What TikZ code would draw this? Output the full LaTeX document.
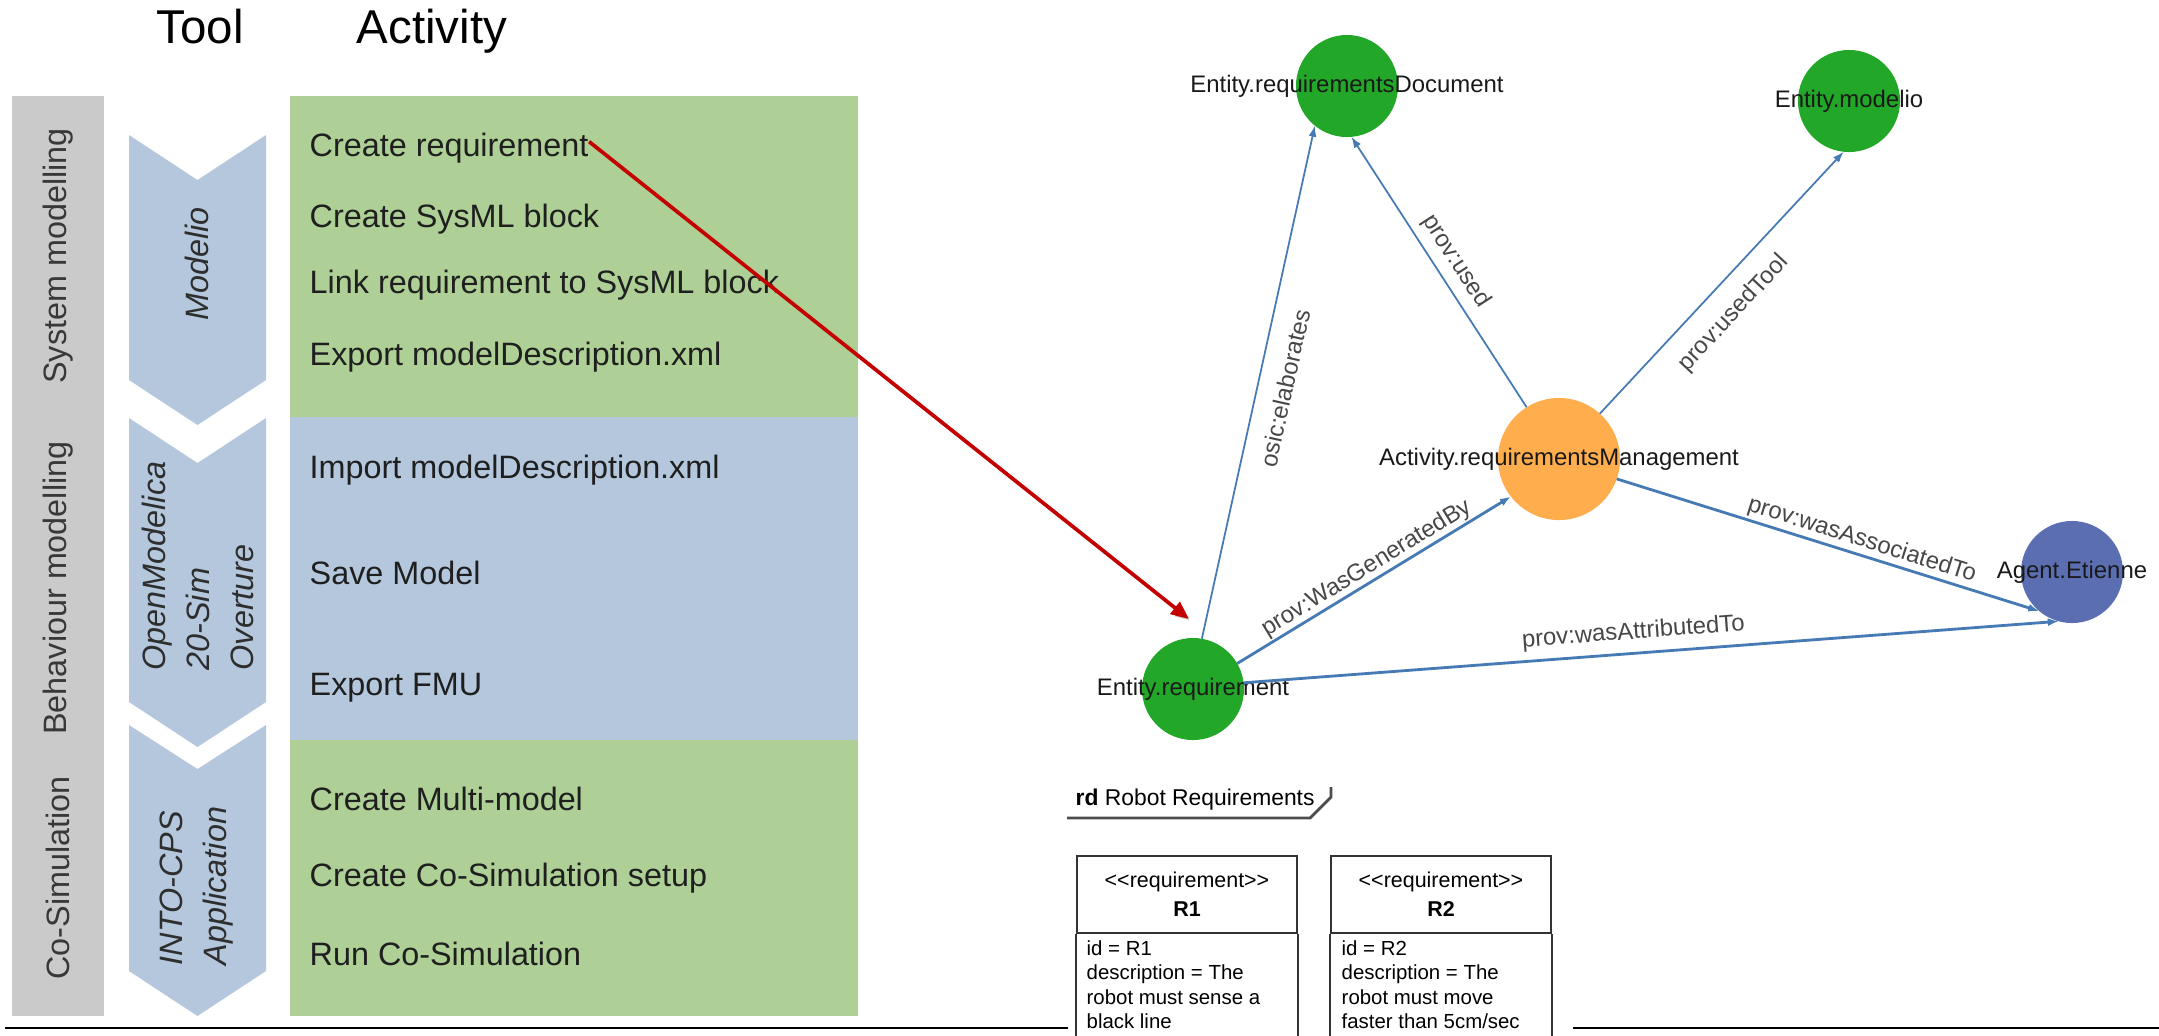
\documentclass[tikz,border=0pt]{standalone}
\usepackage{fontspec}
\setmainfont{Liberation Sans}
\usetikzlibrary{arrows.meta}

\definecolor{phasegray}{RGB}{202,202,202}
\definecolor{toolblue}{RGB}{180,199,221}
\definecolor{actgreen}{RGB}{174,207,149}
\definecolor{actblue}{RGB}{180,199,221}
\definecolor{entgreen}{RGB}{34,167,40}
\definecolor{actorange}{RGB}{255,173,77}
\definecolor{agentblue}{RGB}{92,110,178}
\definecolor{relblue}{RGB}{70,122,180}
\definecolor{linkred}{RGB}{196,0,0}

\begin{document}
\begin{tikzpicture}
	[x=0.01cm, y=-0.01cm,
	head/.style={anchor=base, inner sep=0, font=\fontsize{13.5}{16}\selectfont},
	phase/.style={rotate=90, inner sep=0, text=black!78, font=\fontsize{9.2}{11}\selectfont},
	tool/.style={rotate=90, inner sep=0, align=left, text=black!82, font=\fontsize{9.2}{12.5}\selectfont\itshape},
	act/.style={anchor=base west, inner sep=0, text=black!88, font=\fontsize{9.2}{11}\selectfont},
	ent/.style={circle, fill=entgreen, minimum size=1.02cm, inner sep=0, outer sep=0},
	lbl/.style={inner sep=0, text=black!90, font=\fontsize{6.8}{8}\selectfont},
	rel/.style={draw=relblue, line width=0.5pt, -{Latex[length=0.11cm,width=0.08cm]}},
	rlab/.style={sloped, text=black!72, font=\fontsize{6.8}{8}\selectfont},
	link/.style={draw=linkred, line width=1.05pt, -{Triangle[length=0.18cm,width=0.15cm]},
		preaction={draw=black!50, opacity=0.35, transform canvas={shift={(0.025cm,-0.03cm)}}}},
	reqhead/.style={draw=black!80, line width=0.65pt, minimum width=2.2cm, minimum height=0.77cm, inner sep=0, align=center, font=\fontsize{6.1}{8.3}\selectfont},
	reqbody/.style={anchor=north west, inner sep=0, align=left, font=\fontsize{5.8}{6.9}\selectfont},
	reqline/.style={draw=black!80, line width=0.65pt}]

	\useasboundingbox (0,0) rectangle (2159,1035);

	% tool / activity table
	\node[head] (toolhead) at (200,43) {Tool};
	\node[head] (acthead) at (432,43) {Activity};
	\fill[phasegray] (12,96) rectangle (104,1016);
	\fill[actgreen] (290,96) rectangle (858,417);
	\fill[actblue] (290,417) rectangle (858,740);
	\fill[actgreen] (290,740) rectangle (858,1016);
	\fill[toolblue] (129,135) -- (197.5,180) -- (266,135) -- (266,380) -- (197.5,425) -- (129,380) -- cycle;
	\fill[toolblue] (129,418) -- (197.5,463) -- (266,418) -- (266,702) -- (197.5,747) -- (129,702) -- cycle;
	\fill[toolblue] (129,725) -- (197.5,769) -- (266,725) -- (266,971) -- (197.5,1016) -- (129,971) -- cycle;

	\node[phase] (ph1) at (58,256) {System modelling};
	\node[phase] (ph2) at (58,588) {Behaviour modelling};
	\node[phase] (ph3) at (58,878) {Co-Simulation};

	\node[tool] (t1) at (197,264) {Modelio};
	\node[tool] (t2) at (198,566) {OpenModelica\\20-Sim\\Overture};
	\node[tool] (t3) at (197,886) {INTO-CPS\\Application};

	\node[act] (a1) at (309,156) {Create requirement};
	\node[act] (a2) at (309,227) {Create SysML block};
	\node[act] (a3) at (309,293) {Link requirement to SysML block};
	\node[act] (a4) at (309,365) {Export modelDescription.xml};
	\node[act] (a5) at (309,478) {Import modelDescription.xml};
	\node[act] (a6) at (309,584) {Save Model};
	\node[act] (a7) at (309,695) {Export FMU};
	\node[act] (a8) at (309,810) {Create Multi-model};
	\node[act] (a9) at (309,886) {Create Co-Simulation setup};
	\node[act] (a10) at (309,965) {Run Co-Simulation};

	% provenance graph
	\node[ent] (edoc) at (1347,86) {};
	\node[ent] (emod) at (1849,101) {};
	\node[ent, fill=actorange, minimum size=1.22cm] (actrm) at (1559,459) {};
	\node[ent, fill=agentblue] (agent) at (2072,572) {};
	\node[ent] (ereq) at (1193,689) {};
	\node[lbl] (edoc-l) at (edoc) {Entity.requirementsDocument};
	\node[lbl] (emod-l) at (emod) {Entity.modelio};
	\node[lbl] (actrm-l) at (actrm) {Activity.requirementsManagement};
	\node[lbl] (agent-l) at (agent) {Agent.Etienne};
	\node[lbl] (ereq-l) at (ereq) {Entity.requirement};

	\draw[rel] (ereq.80.5) -- node[rlab, below, inner sep=5pt] {osic:elaborates} (edoc.-129.7);
	\draw[rel] (actrm.122) -- node[rlab, above, inner sep=2.3pt] {prov:used} (edoc.-85.6);
	\draw[rel] (actrm.48.3) -- node[rlab, below, inner sep=5pt, pos=.46] {prov:usedTool} (emod.-96.6);
	\draw[rel, line width=0.8pt] (ereq.30.6) -- node[rlab, above, inner sep=0.3pt] {prov:WasGeneratedBy} (actrm.-142.6);
	\draw[rel, line width=0.8pt] (actrm.-19.3) -- node[rlab, above, inner sep=0.6pt, pos=.57] {prov:wasAssociatedTo} (agent.-130);
	\draw[rel, line width=0.8pt] (ereq.7.8) -- node[rlab, above, inner sep=2.3pt, pos=.48] {prov:wasAttributedTo} (agent.-105);

	% requirement diagram
	\draw[line width=0.7pt] (5,1028) -- (1068,1028);
	\draw[line width=0.7pt] (1573,1028) -- (2159,1028);
	\draw[draw=black!70, line width=0.8pt] (1067,818) -- (1310,818) -- (1331,797) -- (1331,787);
	\node[anchor=base west, inner sep=0, font=\fontsize{6.5}{8}\selectfont] (rdtitle) at (1075,805) {\textbf{rd} Robot Requirements};
	\begin{scope}[shift={(1077,856)}]
		\node[reqhead] (r1h) at (110,38.5) {<\kern0pt<requirement>\kern0pt>\\\textbf{R1}};
		\draw[reqline] (r1h.south west) -- ++(0,102) (r1h.south east) -- ++(0,102);
		\node[reqbody] (r1b) at (9,84) {id = R1\\description = The\\robot must sense a\\black line};
	\end{scope}
	\begin{scope}[shift={(1331,856)}]
		\node[reqhead] (r2h) at (110,38.5) {<\kern0pt<requirement>\kern0pt>\\\textbf{R2}};
		\draw[reqline] (r2h.south west) -- ++(0,102) (r2h.south east) -- ++(0,102);
		\node[reqbody] (r2b) at (10,84) {id = R2\\description = The\\robot must move\\faster than 5cm/sec};
	\end{scope}

	% link from activity to entity
	\coordinate (linkend) at (1189,619);
	\draw[link] ([yshift=0.06cm]a1.east) -- (linkend);
\end{tikzpicture}
\end{document}
